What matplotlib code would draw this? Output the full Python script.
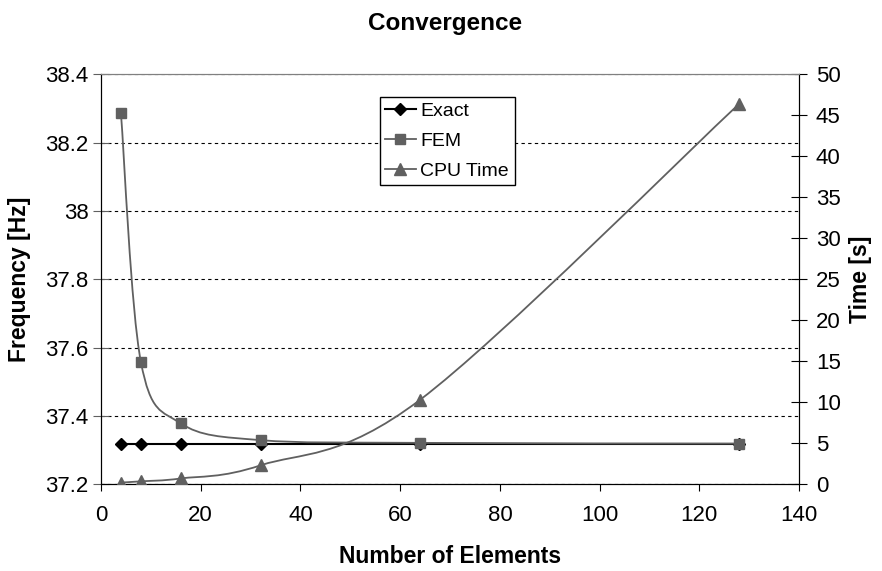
import numpy as np
import matplotlib
matplotlib.use("Agg")
import matplotlib.pyplot as plt
from matplotlib.path import Path
from matplotlib.patches import PathPatch

plt.rcParams['font.family'] = ['Liberation Sans', 'DejaVu Sans']

# number of elements
n_elements = [4, 8, 16, 32, 64, 128]
# frequency [Hz]
exact_freq = [37.319, 37.319, 37.319, 37.319, 37.319, 37.319]
fem_freq = [38.286, 37.558, 37.378, 37.329, 37.321, 37.319]
# CPU time [s]
cpu_time = [0.2, 0.35, 0.7, 2.3, 10.3, 46.4]

gray = '#606060'


def smooth_path(x, y):
    # Excel-like smoothed line: cubic Bezier segments through the points
    pts = np.column_stack([x, y]).astype(float)
    ext = np.vstack([pts[0], pts, pts[-1]])
    verts = [pts[0]]
    codes = [Path.MOVETO]
    for i in range(1, len(ext) - 2):
        p0, p1, p2, p3 = ext[i - 1], ext[i], ext[i + 1], ext[i + 2]
        verts += [p1 + (p2 - p0) / 6, p2 - (p3 - p1) / 6, p2]
        codes += [Path.CURVE4] * 3
    return Path(verts, codes)


fig = plt.figure(figsize=(8.82, 5.71), dpi=100)
ax1 = fig.add_axes([0.1145, 0.152, 0.7915, 0.718])
ax2 = ax1.twinx()

# exact
ax1.plot(n_elements, exact_freq, color='black', lw=1.5, marker='D', ms=6,
         label='Exact', zorder=3)
# FEM
ax1.add_patch(PathPatch(smooth_path(n_elements, fem_freq), fill=False,
                        edgecolor=gray, lw=1.3, zorder=4))
ax1.plot(n_elements, fem_freq, ls='none', marker='s', ms=7.5, color=gray, zorder=5)
# CPU time
ax2.add_patch(PathPatch(smooth_path(n_elements, cpu_time), fill=False,
                        edgecolor=gray, lw=1.3, zorder=4))
ax2.plot(n_elements, cpu_time, ls='none', marker='^', ms=8.5, color=gray, zorder=5)

ax1.set_xlim(0, 140)
ax1.set_ylim(37.2, 38.4)
ax2.set_ylim(0, 50)
ax1.set_xticks(np.arange(0, 141, 20))
ax1.set_yticks(np.arange(37.2, 38.41, 0.2))
ax1.set_yticklabels(['37.2', '37.4', '37.6', '37.8', '38', '38.2', '38.4'])
ax2.set_yticks(np.arange(0, 51, 5))

ax1.yaxis.grid(True, ls=(0, (3, 3)), color='black', lw=0.8)
ax1.set_axisbelow(True)

ax1.tick_params(axis='x', direction='out', length=5, labelsize=16, pad=10)
ax1.tick_params(axis='y', direction='inout', length=12, labelsize=16, color=gray, pad=3)
ax2.tick_params(axis='y', direction='inout', length=12, labelsize=16, pad=6)

for ax in (ax1, ax2):
    ax.spines['top'].set_color('#808080')
    ax.spines['left'].set_color('black')
    ax.spines['right'].set_color('black')
    ax.spines['bottom'].set_color('black')

ax1.set_xlabel('Number of Elements', fontsize=16.5, fontweight='bold', labelpad=14)
ax1.set_ylabel('Frequency [Hz]', fontsize=16.5, fontweight='bold', labelpad=10)
ax2.set_ylabel('Time [s]', fontsize=16.5, fontweight='bold', labelpad=6)
fig.text(0.505, 0.958, 'Convergence', fontsize=17.5, fontweight='bold',
         ha='center', va='center')

handles = [
    plt.Line2D([], [], color='black', lw=1.5, marker='D', ms=6),
    plt.Line2D([], [], color=gray, lw=1.3, marker='s', ms=7.5),
    plt.Line2D([], [], color=gray, lw=1.3, marker='^', ms=8.5),
]
leg = ax2.legend(handles, ['Exact', 'FEM', 'CPU Time'], loc='upper left',
                 bbox_to_anchor=(0.399, 0.945), fontsize=14, fancybox=False,
                 framealpha=1, edgecolor='black', handlelength=1.55,
                 handletextpad=0.25, borderpad=0.3, labelspacing=0.62,
                 borderaxespad=0)
leg.get_frame().set_linewidth(1.0)

fig.savefig('out.png', dpi=100)
